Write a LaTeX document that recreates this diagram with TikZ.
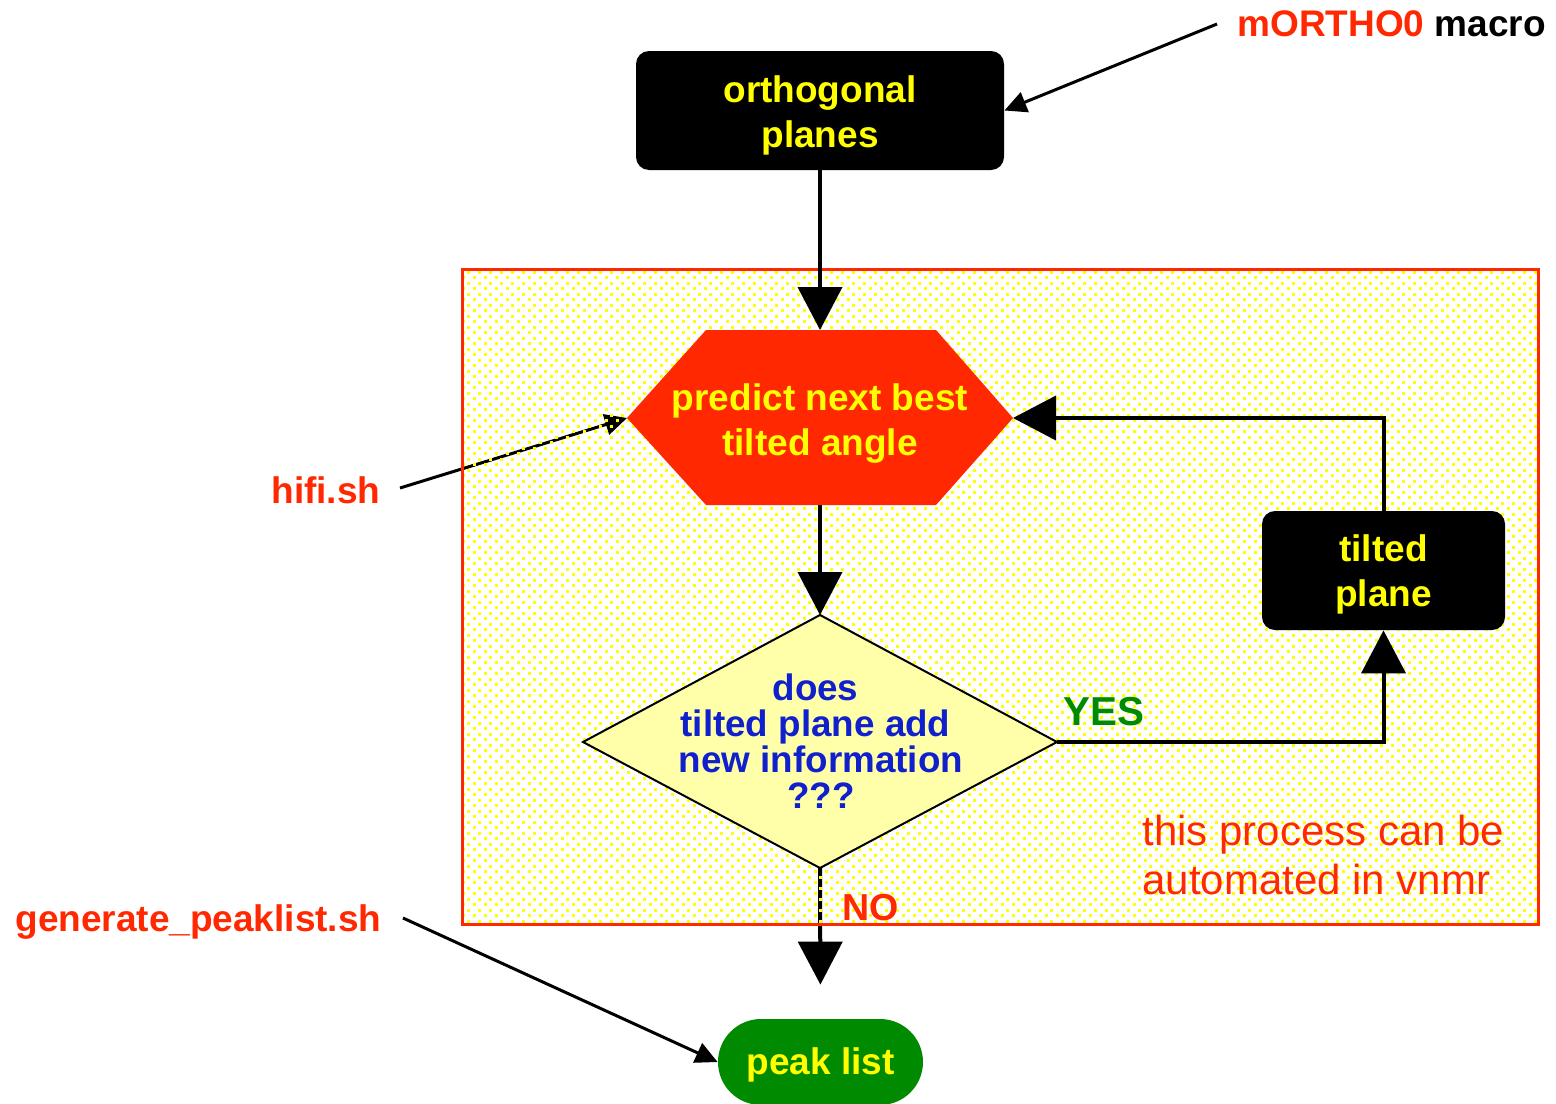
\documentclass[tikz,border=0pt]{standalone}
\usepackage{fontspec}
\setmainfont{Liberation Sans}
\usetikzlibrary{arrows.meta,patterns.meta}
\definecolor{hred}{RGB}{255,40,0}
\definecolor{tyel}{RGB}{255,255,0}
\definecolor{dgreen}{RGB}{0,138,0}
\definecolor{dblue}{RGB}{16,32,204}
\definecolor{lyel}{RGB}{255,255,170}
\pgfdeclarepattern{
  name=ydots,
  type=uncolored,
  bottom left={\pgfpoint{0pt}{0pt}},
  top right={\pgfpoint{5.5pt}{5.5pt}},
  tile size={\pgfpoint{5.5pt}{5.5pt}},
  code={
    \pgfpathrectangle{\pgfpoint{0pt}{0pt}}{\pgfpoint{1.5pt}{1.5pt}}
    \pgfpathrectangle{\pgfpoint{2.75pt}{2.75pt}}{\pgfpoint{1.5pt}{1.5pt}}
    \pgfusepath{fill}
  }
}
\pgfdeclarelayer{under}
\pgfdeclarelayer{dots}
\pgfsetlayers{under,dots,main}
\tikzset{
  bigarrow/.style={line width=2pt, -{Triangle[length=21.5pt,width=22pt]}},
  thinarrow/.style={line width=1.5pt, -{Triangle[length=11pt,width=10.5pt]}},
  blackbox/.style={fill=black, rounded corners=6.5pt, inner sep=0pt},
  boxtext/.style={inner sep=0pt, align=center, text=tyel, font=\bfseries\fontsize{18.5}{22.5}\selectfont},
  lbl/.style={inner sep=0pt, anchor=base west, font=\bfseries\fontsize{18.5}{22}\selectfont},
}
\begin{document}
\begin{tikzpicture}[x=0.5pt,y=-0.5pt]
\useasboundingbox (0,0) rectangle (1556,1103);

% boxes
\node[blackbox, minimum width=184pt, minimum height=59.5pt] (ortho) at (820,110.5) {};
\node[boxtext] (orthoT) at (820,115) {orthogonal\\planes};

\node[blackbox, minimum width=121.5pt, minimum height=59.5pt] (tilted) at (1383.5,570.5) {};
\node[boxtext] (tiltedT) at (1383.5,574) {tilted\\plane};

\node[fill=dgreen, rounded corners=21.5pt, inner sep=0pt, minimum width=102.5pt, minimum height=43pt] (peak) at (820.5,1062) {};
\node[boxtext] (peakT) at (820.5,1065) {peak list};

% hexagon
\coordinate (hexL) at (627,418);
\coordinate (hexTL) at (706,330);
\coordinate (hexT) at (820,330);
\coordinate (hexTR) at (936,330);
\coordinate (hexR) at (1013,418);
\coordinate (hexBR) at (936,505);
\coordinate (hexB) at (820,505);
\coordinate (hexBL) at (706,505);
\fill[hred] (hexL) -- (hexTL) -- (hexTR) -- (hexR) -- (hexBR) -- (hexBL) -- cycle;
\node[boxtext] (hexT2) at (820,423.5) {predict next best\\tilted angle};

% diamond
\coordinate (diaL) at (583,742);
\coordinate (diaT) at (820,615);
\coordinate (diaR) at (1057,742);
\coordinate (diaB) at (820,868);
\filldraw[fill=lyel, draw=black, line width=1pt, line join=miter] (diaL) -- (diaT) -- (diaR) -- (diaB) -- cycle;
\node[boxtext, text=dblue, font=\bfseries\fontsize{18.4}{18}\selectfont] (diaText) at (821,741.5) {does\rule{0.3em}{0pt}\\tilted plane add\rule{0.3em}{0pt}\\new information\\???};

% labels
\node[lbl, text=hred] (morthoL) at (1237,36) {mORTHO0 \textcolor{black}{macro}};
\node[lbl, text=hred] (hifiL) at (271,503) {hifi.sh};
\node[lbl, text=hred] (genL) at (15,931) {generate\_peaklist.sh};
\node[lbl, text=dgreen, font=\bfseries\fontsize{20.2}{22}\selectfont] (yesL) at (1063,725) {YES};
\node[lbl, text=hred, font=\bfseries\fontsize{18.8}{22}\selectfont] (noL) at (842,920) {NO};
\node[lbl, text=hred, font=\fontsize{21}{25}\selectfont] (proc1) at (1142,845) {this process can be};
\node[lbl, text=hred, font=\fontsize{21}{25}\selectfont] (proc2) at (1142,894) {automated in vnmr};

\coordinate (mS) at (1217,24);
\coordinate (hS) at (400,488);
\coordinate (gS) at (403,918);

% connectors
\draw[bigarrow] (ortho.south) -- (hexT);
\draw[bigarrow] (hexB) -- (diaT);
\draw[bigarrow] (diaR) -| (tilted.south);
\draw[bigarrow] (tilted.north) |- (hexR);
\draw[thinarrow] (mS) -- (ortho.east);
\draw[thinarrow] (gS) -- (peak.west);

\begin{pgfonlayer}{under}
\draw[bigarrow, shorten >=17pt] (diaB) -- (peak.north);
\draw[thinarrow] (hS) -- (hexL);
\end{pgfonlayer}

\begin{pgfonlayer}{dots}
\fill[pattern=ydots, pattern color=tyel] (462,269) rectangle (1538,924);
\draw[hred, line width=1.5pt] (462,269) rectangle (1538,924);
\end{pgfonlayer}
\end{tikzpicture}
\end{document}
